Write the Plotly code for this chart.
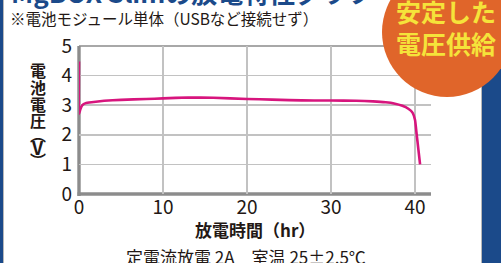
import plotly.graph_objects as go

# Data
hours = [0, 0, 0.15, 0.4, 0.8, 1.5, 3, 5, 8, 10, 13, 16, 20, 23, 25, 28, 30, 33, 35, 36.5, 37.5, 38.5, 39.2, 39.7, 40.0, 40.2, 40.4, 40.6]
volts = [4.48, 2.7, 2.85, 3.0, 3.07, 3.1, 3.15, 3.18, 3.21, 3.23, 3.26, 3.25, 3.21, 3.19, 3.17, 3.16, 3.16, 3.15, 3.13, 3.1, 3.06, 2.98, 2.88, 2.75, 2.5, 2.0, 1.5, 1.0]
x_ticks = [0, 10, 20, 30, 40]
y_ticks = [0, 1, 2, 3, 4, 5]
X_MAX = 41.9

W, H = 501, 263
L, T, R, B = 79, 46, 431, 194
PW, PH = R - L, B - T

def px(X):
    return (X - L) / PW

def py(Y):
    return (B - Y) / PH

FONT = "Noto Sans CJK JP"
DARK = "#231815"
GRID = "#c2c2c2"
AX = "#8c8c8c"

fig = go.Figure()
fig.add_trace(go.Scatter(
    x=hours, y=volts, mode="lines",
    line=dict(color="#d7157d", width=2.6, shape="spline", smoothing=0.3),
    cliponaxis=False, showlegend=False, hoverinfo="skip"))

fig.update_layout(
    template="none",
    width=W, height=H,
    margin=dict(l=L, r=W - R, t=T, b=H - B, pad=0, autoexpand=False),
    paper_bgcolor="white", plot_bgcolor="white",
    font=dict(family=FONT, color=DARK),
    xaxis=dict(range=[0, X_MAX], tickmode="array", tickvals=x_ticks, showgrid=True, gridcolor=GRID, gridwidth=1.5,
               zeroline=False, showline=False, ticks="", automargin=False,
               tickfont=dict(size=19, family=FONT, color=DARK), fixedrange=True),
    yaxis=dict(range=[0, 5], tickmode="array", tickvals=y_ticks, showgrid=True, gridcolor=GRID, gridwidth=1.5,
               zeroline=False, showline=False, ticks="", automargin=False,
               ticklabelstandoff=6,
               tickfont=dict(size=19, family=FONT, color=DARK), fixedrange=True),
)

shapes = []
# frame lines: drawn above the grid, below the curve
shapes.append(dict(type="line", xref="paper", yref="paper", x0=0, x1=1, y0=1, y1=1,
                   line=dict(color="#a8a8a8", width=2), layer="between"))
shapes.append(dict(type="line", xref="paper", yref="paper", x0=px(77.5), x1=1, y0=0, y1=0,
                   line=dict(color=AX, width=3.4), layer="between"))
shapes.append(dict(type="line", xref="paper", yref="paper", x0=0, x1=0, y0=py(196), y1=1,
                   line=dict(color=AX, width=3.4), layer="between"))
# left blue bar
shapes.append(dict(type="rect", xref="paper", yref="paper", x0=px(-2), x1=px(3), y0=py(H + 2), y1=py(-2),
                   fillcolor="#1b4a8a", line=dict(width=0), layer="above"))
shapes.append(dict(type="rect", xref="paper", yref="paper", x0=px(3), x1=px(4), y0=py(H + 2), y1=py(-2),
                   fillcolor="#b8b8b8", line=dict(width=0), layer="above"))
# right blue bar
shapes.append(dict(type="rect", xref="paper", yref="paper", x0=px(482), x1=px(W + 2), y0=py(H + 2), y1=py(-2),
                   fillcolor="#1b4a8a", line=dict(width=0), layer="above"))
shapes.append(dict(type="rect", xref="paper", yref="paper", x0=px(481), x1=px(482), y0=py(H + 2), y1=py(-2),
                   fillcolor="#b8b8b8", line=dict(width=0), layer="above"))
# orange circle
cx, cy, r = 447, 32, 65
shapes.append(dict(type="circle", xref="paper", yref="paper", x0=px(cx - r), x1=px(cx + r), y0=py(cy + r), y1=py(cy - r),
                   fillcolor="#e0652a", line=dict(width=0), layer="above"))
fig.update_layout(shapes=shapes)

ann = []
def add(text, X, Y, size, color=DARK, bold=False, xanchor="center", yanchor="middle", align="center"):
    t = f"<b>{text}</b>" if bold else text
    ann.append(dict(text=t, xref="paper", yref="paper", x=px(X), y=py(Y), xanchor=xanchor, yanchor=yanchor,
                    showarrow=False, align=align, borderpad=0, font=dict(size=size, color=color, family=FONT)))

add("MgBOX Slimの放電特性グラフ", 10, -8, 26, color="#1b4a8a", bold=True, xanchor="left")
add("※電池モジュール単体（USBなど接続せず）", 9, 18, 15.5, xanchor="left")
for ch, yy in zip(["電", "池", "電", "圧", "︵", "V", "︶"], [70, 87, 104, 120, 134, 147, 160]):
    add(ch, 37.5, yy, 16 if ch != "V" else 18, bold=True)
add("放電時間（hr）", 255, 229, 17, bold=True)
add("定電流放電 2A　室温 25±2.5℃", 246, 256.5, 17)
add("安定した", 395, 11, 25, color="#f5e33a", bold=True, xanchor="left")
add("電圧供給", 395, 43, 25, color="#f5e33a", bold=True, xanchor="left")
fig.update_layout(annotations=ann)

fig.write_html("out.html", config={"displayModeBar": False, "staticPlot": True},
               post_script="document.body.style.margin='0';document.body.style.overflow='hidden';")
